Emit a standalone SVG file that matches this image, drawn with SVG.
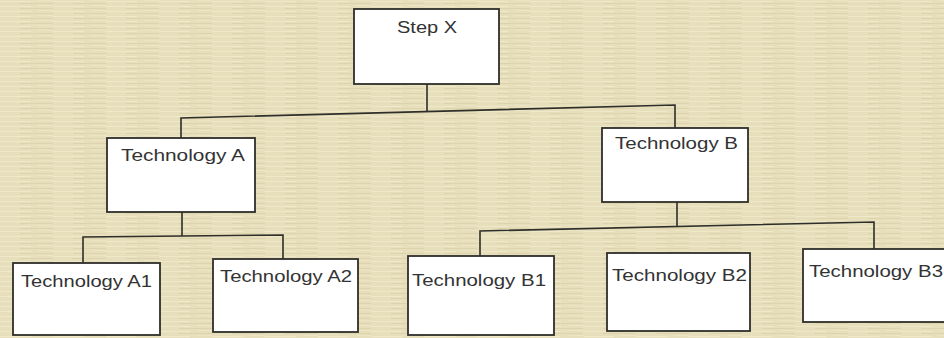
<svg xmlns="http://www.w3.org/2000/svg" width="944" height="338" viewBox="0 0 944 338">
  <defs>
    <pattern id="paper" x="0" y="0" width="53" height="5" patternUnits="userSpaceOnUse">
      <rect width="53" height="5" fill="#e7dfbb"/>
      <rect x="0" y="1" width="31" height="1" fill="#efe8c9"/>
      <rect x="20" y="3" width="33" height="1" fill="#ddd4ad"/>
      <rect x="38" y="0" width="15" height="1" fill="#ece4c2"/>
    </pattern>
  </defs>
  <style>
    .box { fill: #ffffff; stroke: #2e2e2a; stroke-width: 1.8; }
    .lbl { font-family: "Liberation Sans", Arial, sans-serif; font-size: 16px; fill: #333333; }
    .conn { fill: none; stroke: #2e2e2a; stroke-width: 1.6; }
  </style>
  <rect width="944" height="338" fill="url(#paper)"/>

  <g id="connectors">
    <line class="conn" x1="427" y1="84" x2="427" y2="111"/>
    <polyline class="conn" points="181,138 181,118 675,105 675,128"/>
    <line class="conn" x1="182" y1="212" x2="182" y2="236"/>
    <polyline class="conn" points="83,263 83,237 283,235 283,259"/>
    <line class="conn" x1="677" y1="202" x2="677" y2="227"/>
    <polyline class="conn" points="480,256 480,231 874,222 874,249"/>
  </g>

  <g id="step-x">
    <rect class="box" x="354" y="9" width="145" height="75"/>
    <text class="lbl" x="397" y="33" textLength="60" lengthAdjust="spacingAndGlyphs">Step X</text>
  </g>
  <g id="tech-a">
    <rect class="box" x="107" y="138" width="148" height="74"/>
    <text class="lbl" x="121" y="161" textLength="124" lengthAdjust="spacingAndGlyphs">Technology A</text>
  </g>
  <g id="tech-b">
    <rect class="box" x="602" y="128" width="146" height="74"/>
    <text class="lbl" x="615" y="149" textLength="123" lengthAdjust="spacingAndGlyphs">Technology B</text>
  </g>
  <g id="tech-a1">
    <rect class="box" x="13" y="263" width="147" height="72"/>
    <text class="lbl" x="21" y="287" textLength="131" lengthAdjust="spacingAndGlyphs">Technology A1</text>
  </g>
  <g id="tech-a2">
    <rect class="box" x="213" y="259" width="145" height="73"/>
    <text class="lbl" x="220" y="282" textLength="132" lengthAdjust="spacingAndGlyphs">Technology A2</text>
  </g>
  <g id="tech-b1">
    <rect class="box" x="408" y="256" width="146" height="79"/>
    <text class="lbl" x="412" y="286" textLength="134" lengthAdjust="spacingAndGlyphs">Technology B1</text>
  </g>
  <g id="tech-b2">
    <rect class="box" x="607" y="253" width="143" height="78"/>
    <text class="lbl" x="612" y="281" textLength="135" lengthAdjust="spacingAndGlyphs">Technology B2</text>
  </g>
  <g id="tech-b3">
    <rect class="box" x="803" y="249" width="145" height="73"/>
    <text class="lbl" x="809" y="277" textLength="134" lengthAdjust="spacingAndGlyphs">Technology B3</text>
  </g>
</svg>
